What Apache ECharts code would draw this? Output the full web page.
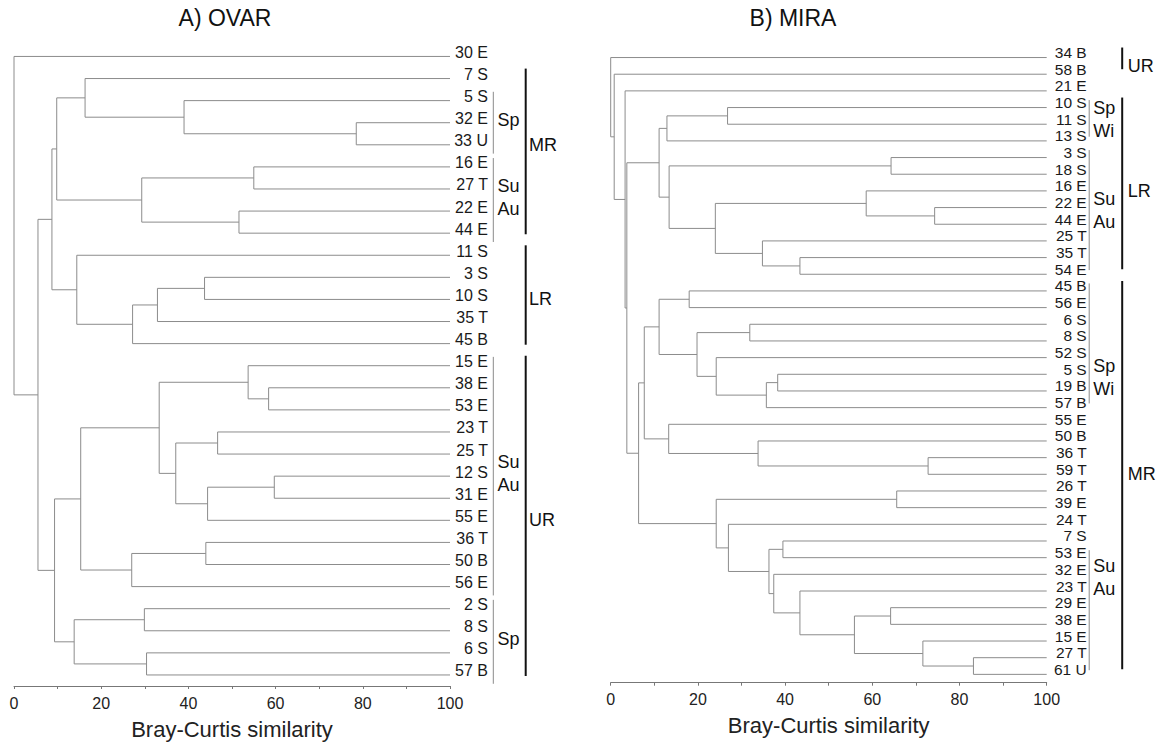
<!DOCTYPE html>
<html><head><meta charset="utf-8">
<script src="https://cdn.jsdelivr.net/npm/echarts/dist/echarts.min.js"></script>
<style>html,body{margin:0;padding:0;background:#fff}#c{width:1168px;height:745px}</style>
</head><body><div id="c"></div>
<script>
// ---------- DATA ----------
const ovarLeaves = ["30 E","7 S","5 S","32 E","33 U","16 E","27 T","22 E","44 E","11 S","3 S","10 S","35 T","45 B","15 E","38 E","53 E","23 T","25 T","12 S","31 E","55 E","36 T","50 B","56 E","2 S","8 S","6 S","57 B"];
// merges: [childA, childB, similarity]; "#k" = k-th merge
const ovarMerges = [
  ["32 E","33 U",78.5],["5 S","#0",39.0],["7 S","#1",16.3],
  ["16 E","27 T",55.0],["22 E","44 E",51.6],["#3","#4",29.3],["#2","#5",9.8],
  ["3 S","10 S",43.7],["#7","35 T",32.9],["#8","45 B",27.2],["11 S","#9",14.4],["#6","#10",8.7],
  ["38 E","53 E",58.4],["15 E","#12",53.7],["23 T","25 T",46.7],["12 S","31 E",59.7],["#15","55 E",44.4],
  ["#14","#16",37.1],["#13","#17",33.3],["36 T","50 B",44.0],["#19","56 E",27.0],["#18","#20",15.3],
  ["2 S","8 S",29.9],["6 S","57 B",30.4],["#22","#23",13.8],["#21","#24",9.3],["#11","#25",5.5],["30 E","#26",0]
];
const miraLeaves = ["34 B","58 B","21 E","10 S","11 S","13 S","3 S","18 S","16 E","22 E","44 E","25 T","35 T","54 E","45 B","56 E","6 S","8 S","52 S","5 S","19 B","57 B","55 E","50 B","36 T","59 T","26 T","39 E","24 T","7 S","53 E","32 E","23 T","29 E","38 E","15 E","27 T","61 U"];
const miraMerges = [
  ["10 S","11 S",26.8],["#0","13 S",12.9],["3 S","18 S",64.3],["22 E","44 E",74.3],["16 E","#3",58.6],
  ["35 T","54 E",43.4],["25 T","#5",34.8],["#4","#6",24.0],["#2","#7",13.4],["#1","#8",11.1],
  ["45 B","56 E",18.0],["6 S","8 S",31.9],["5 S","19 B",38.3],["#12","57 B",35.7],["52 S","#13",24.2],
  ["#11","#14",19.8],["#10","#15",11.1],["36 T","59 T",72.8],["50 B","#17",33.8],["55 E","#18",13.3],
  ["#16","#19",7.7],["26 T","39 E",65.6],["7 S","53 E",39.5],["29 E","38 E",64.2],["27 T","61 U",83.2],
  ["15 E","#24",71.6],["#23","#25",55.9],["23 T","#26",43.4],["32 E","#27",37.4],["#22","#28",36.3],
  ["24 T","#29",27.0],["#21","#30",24.2],["#20","#31",6.4],["#9","#32",3.7],["21 E","#33",3.3],
  ["58 B","#34",0.8],["34 B","#35",0]
];
// groups: [label, firstLeaf, lastLeaf, labelAnchorA, labelAnchorB, level]
const ovarGroups = [
  ["Sp","5 S","33 U","32 E","32 E","inner"],
  ["Su\nAu","16 E","44 E","27 T","22 E","inner"],
  ["Su\nAu","15 E","56 E","12 S","12 S","inner"],
  ["Sp","2 S","57 B","8 S","6 S","inner"],
  ["MR","7 S","44 E","33 U","33 U","outer"],
  ["LR","11 S","45 B","10 S","10 S","outer"],
  ["UR","15 E","57 B","55 E","55 E","outer"]
];
const miraGroups = [
  ["Sp\nWi","10 S","13 S","11 S","11 S","inner"],
  ["Su\nAu","3 S","54 E","22 E","44 E","inner"],
  ["Sp\nWi","45 B","57 B","5 S","19 B","inner"],
  ["Su\nAu","53 E","61 U","32 E","23 T","inner"],
  ["UR","34 B","58 B","34 B","58 B","outer"],
  ["LR","10 S","54 E","16 E","16 E","outer"],
  ["MR","45 B","61 U","59 T","59 T","outer"]
];
const tickValues = [0,20,40,60,80,100];
const panelTitles = ["A) OVAR","B) MIRA"];
const axisTitle = "Bray-Curtis similarity";

// ---------- BUILD ----------
const FONT = '"Liberation Sans", Arial, Helvetica, sans-serif';
function dendroSegments(leaves, merges) {
  const node = {};
  leaves.forEach((n, i) => { node[n] = [100, i]; });
  const segs = [];
  merges.forEach((m, k) => {
    const a = node[m[0]], b = node[m[1]], s = m[2];
    segs.push([a[0], a[1], s, a[1]]);
    segs.push([b[0], b[1], s, b[1]]);
    segs.push([s, a[1], s, b[1]]);
    node['#' + k] = [s, (a[1] + b[1]) / 2];
  });
  return segs;
}
function renderSeg(params, api) {
  const p1 = api.coord([api.value(0), api.value(1)]);
  const p2 = api.coord([api.value(2), api.value(3)]);
  return {type:'line', shape:{x1:p1[0], y1:p1[1], x2:p2[0], y2:p2[1]},
          style:{stroke:'#8c8c8c', lineWidth:1}};
}
function labelRenderer(leaves, dx, dy, size) {
  return function (params, api) {
    const p = api.coord([api.value(0), api.value(1)]);
    return {type:'text', x:p[0] + dx, y:p[1] + dy,
      style:{text:leaves[params.dataIndex], fill:'#1a1a1a', fontSize:size, fontFamily:FONT,
             align:'right', verticalAlign:'middle'}};
  };
}
function groupRenderer(leaves, groups, cfg) {
  return function (params, api) {
    const g = groups[params.dataIndex];
    const outer = g[5] === 'outer';
    const i0 = leaves.indexOf(g[1]), i1 = leaves.indexOf(g[2]);
    const pT = api.coord([100, i0 - (outer ? cfg.oTop : cfg.iTop)]);
    const pB = api.coord([100, i1 + (outer ? cfg.oBot : cfg.iBot)]);
    const pA = api.coord([100, (leaves.indexOf(g[3]) + leaves.indexOf(g[4])) / 2]);
    const bx = pT[0] + (outer ? cfg.oX : cfg.iX);
    const lx = pT[0] + (outer ? cfg.oLX : cfg.iLX);
    return {type:'group', children:[
      {type:'line', shape:{x1:bx, y1:pT[1], x2:bx, y2:pB[1]},
       style:{stroke: outer ? '#111' : '#8a8a8a', lineWidth: outer ? 2 : 1}},
      {type:'text', x:lx, y:pA[1] + (outer ? 0 : cfg.shift),
       style:{text:g[0], fill:'#111', fontSize:18, fontFamily:FONT, align:'left',
              verticalAlign:'middle', lineHeight:23}}
    ]};
  };
}
function xAxisCfg(gi) {
  return {gridIndex:gi, type:'value', min:0, max:100, interval:10,
    axisLine:{onZero:false, lineStyle:{color:'#777', width:1}},
    axisTick:{length:3, lineStyle:{color:'#777'}},
    splitLine:{show:false},
    axisLabel:{formatter: v => tickValues.indexOf(v) >= 0 ? String(v) : '', fontSize:16,
               color:'#222', fontFamily:FONT, margin:9},
    name:axisTitle, nameLocation:'middle', nameGap:32,
    nameTextStyle:{fontSize:22, color:'#222', fontFamily:FONT}};
}

const chart = echarts.init(document.getElementById('c'), null, {renderer:'svg'});
chart.setOption({
  animation:false,
  backgroundColor:'#fff',
  grid:[
    {left:14, width:436, top:45.4, height:641.5},
    {left:610.7, width:436, top:49.2, height:633.5}
  ],
  xAxis:[xAxisCfg(0), xAxisCfg(1)],
  yAxis:[
    {gridIndex:0, type:'value', min:-0.5, max:ovarLeaves.length - 0.5, inverse:true, show:false},
    {gridIndex:1, type:'value', min:-0.5, max:miraLeaves.length - 0.5, inverse:true, show:false}
  ],
  graphic:[
    {type:'text', x:225, y:18, style:{text:panelTitles[0], fontSize:23, fontFamily:FONT, fill:'#111', align:'center', verticalAlign:'middle'}},
    {type:'text', x:793, y:18, style:{text:panelTitles[1], fontSize:23, fontFamily:FONT, fill:'#111', align:'center', verticalAlign:'middle'}}
  ],
  series:[
    {type:'custom', xAxisIndex:0, yAxisIndex:0, silent:true, renderItem:renderSeg,
     encode:{x:[0,2], y:[1,3]}, data:dendroSegments(ovarLeaves, ovarMerges)},
    {type:'custom', xAxisIndex:0, yAxisIndex:0, silent:true,
     renderItem:labelRenderer(ovarLeaves, 38, -4, 16), data:ovarLeaves.map((n,i)=>[100,i])},
    {type:'custom', xAxisIndex:0, yAxisIndex:0, silent:true,
     renderItem:groupRenderer(ovarLeaves, ovarGroups, {iX:43.3, iLX:47.5, oX:75.7, oLX:79, iTop:0.4, iBot:0.4, oTop:0.45, oBot:0.05, shift:-3}),
     data:ovarGroups.map((g,i)=>[100,i])},
    {type:'custom', xAxisIndex:1, yAxisIndex:1, silent:true, renderItem:renderSeg,
     encode:{x:[0,2], y:[1,3]}, data:dendroSegments(miraLeaves, miraMerges)},
    {type:'custom', xAxisIndex:1, yAxisIndex:1, silent:true,
     renderItem:labelRenderer(miraLeaves, 40, -5, 15.5), data:miraLeaves.map((n,i)=>[100,i])},
    {type:'custom', xAxisIndex:1, yAxisIndex:1, silent:true,
     renderItem:groupRenderer(miraLeaves, miraGroups, {iX:42.5, iLX:46.5, oX:75.5, oLX:81, iTop:0.45, iBot:-0.25, oTop:0.6, oBot:-0.3, shift:-5}),
     data:miraGroups.map((g,i)=>[100,i])}
  ]
});
</script>
</body></html>
